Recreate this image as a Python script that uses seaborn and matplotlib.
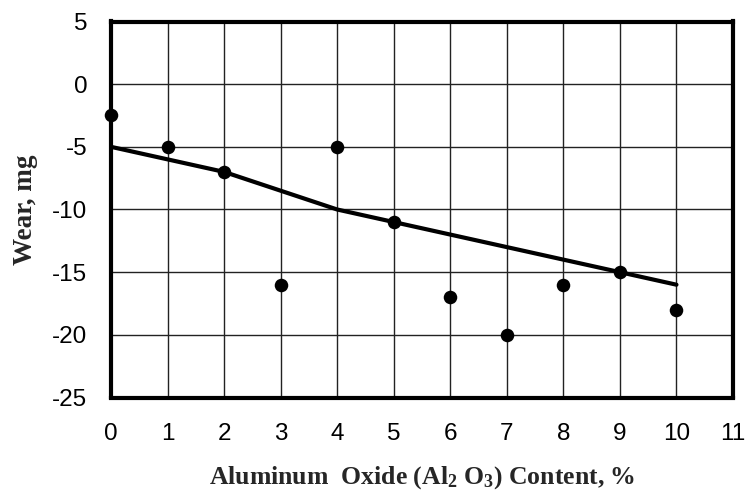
import matplotlib
matplotlib.use("Agg")
import matplotlib.pyplot as plt
import seaborn as sns
import pandas as pd

content = [0, 1, 2, 3, 4, 5, 6, 7, 8, 9, 10]
wear = [-2.5, -5, -7, -16, -5, -11, -17, -20, -16, -15, -18]
trend = [-5, -6, -7, -8.5, -10, -11, -12, -13, -14, -15, -16]
x_ticks = list(range(0, 12))
y_ticks = [-25, -20, -15, -10, -5, 0, 5]

sns.set_theme(style="white")
plt.rcParams['font.family'] = ['Liberation Sans', 'DejaVu Sans']
plt.rcParams['mathtext.fontset'] = 'custom'
plt.rcParams['mathtext.rm'] = 'Liberation Serif:bold'
plt.rcParams['mathtext.bf'] = 'Liberation Serif:bold'
plt.rcParams['mathtext.it'] = 'Liberation Serif:bold'

df = pd.DataFrame({"x": content, "wear": wear, "trend": trend})

fig = plt.figure(figsize=(7.51, 4.98), dpi=100)
ax = fig.add_axes([111/751, 1 - 397.5/498, (733 - 111)/751, (397.5 - 21.5)/498])

sns.lineplot(data=df, x="x", y="trend", ax=ax, color="black", linewidth=3, zorder=3)
sns.scatterplot(data=df, x="x", y="wear", ax=ax, color="black", s=95, edgecolor="black",
                linewidth=0, zorder=4, clip_on=False)

ax.set_xlim(0, 11)
ax.set_ylim(-25, 5)
ax.set_xticks(x_ticks)
ax.set_yticks(y_ticks)
ax.set_xticklabels([str(t) for t in x_ticks])
ax.set_yticklabels([str(t) for t in y_ticks])
ax.grid(True, color="#222222", linewidth=1.0)
ax.set_axisbelow(True)
for sp in ax.spines.values():
    sp.set_visible(True)
    sp.set_color("black")
    sp.set_linewidth(3)
ax.tick_params(axis="both", length=0, labelsize=17.5, colors="black")
ax.tick_params(axis="x", pad=18)
ax.tick_params(axis="y", pad=17)

ax.set_xlabel(r"Aluminum  Oxide (Al$_{2}$ O$_{3}$) Content, %",
              fontfamily="Liberation Serif", fontweight="bold", fontsize=18.5, labelpad=14)
ax.set_ylabel("Wear, mg", fontfamily="Liberation Serif", fontweight="bold", fontsize=19.5,
              labelpad=10)

fig.savefig("out.png", dpi=100)
